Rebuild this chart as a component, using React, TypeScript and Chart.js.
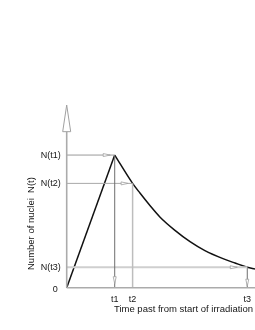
import { useEffect, useRef } from 'react';
import { Chart, registerables } from 'chart.js';

Chart.register(...registerables);

// Rise during irradiation (time, nuclei) – arbitrary units
const RISE_T = [0, 25.5];
const RISE_N = [0, 72.6];
// Decay after irradiation ends
const DECAY_T = [25.5, 35.0, 38.9, 44.2, 49.6, 57.5, 65.5, 73.4, 83.0, 89.4, 95.9, 100];
const DECAY_N = [72.6, 57.1, 51.8, 45.0, 38.6, 31.4, 25.2, 20.3, 15.9, 13.5, 11.2, 10.2];

// Marked times and their nuclei counts
const T_LABELS = ['t1', 't2', 't3'];
const T_VALUES = [25.5, 35.0, 95.9];
const N_LABELS = ['N(t1)', 'N(t2)', 'N(t3)'];
const N_VALUES = [72.6, 57.1, 11.2];
const ZERO_LABEL = '0';

const X_MAX = 100;
const Y_AXIS_TOP = 85.4; // where the arrow head starts
const Y_AXIS_TIP = 100;

const X_TITLE = 'Time past from start of irradiation';
const Y_TITLE = 'Number of nuclei  N(t)';

const FONT = '"Liberation Sans", Arial, sans-serif';

export default function App() {
  const ref = useRef<HTMLCanvasElement | null>(null);

  useEffect(() => {
    if (!ref.current) return;
    const pts = (xs: number[], ys: number[]) => xs.map((v, i) => ({ x: v, y: ys[i] }));

    const refColorsH = ['#9a9a9a', '#a8a8a8', '#cfcfcf'];
    const refWidthH = [1, 1, 2];
    const refColorsV = ['#6e6e6e', '#bdbdbd', '#6e6e6e'];
    const refWidthV = [1, 1.5, 1];

    const datasets: any[] = [];
    // axes
    datasets.push({ data: [{ x: 0, y: 0 }, { x: X_MAX, y: 0 }], borderColor: '#ababab', borderWidth: 1.6 });
    datasets.push({ data: [{ x: 0, y: 0 }, { x: 0, y: Y_AXIS_TOP }], borderColor: '#ababab', borderWidth: 1.6 });
    // reference lines
    T_VALUES.forEach((t, i) => {
      datasets.push({ data: [{ x: 0, y: N_VALUES[i] }, { x: t, y: N_VALUES[i] }], borderColor: refColorsH[i], borderWidth: refWidthH[i] });
      datasets.push({ data: [{ x: t, y: 0 }, { x: t, y: N_VALUES[i] }], borderColor: refColorsV[i], borderWidth: refWidthV[i] });
    });
    // curve
    datasets.push({ data: pts(RISE_T, RISE_N), borderColor: '#111', borderWidth: 1.5 });
    datasets.push({ data: pts(DECAY_T, DECAY_N), borderColor: '#111', borderWidth: 1.5, cubicInterpolationMode: 'monotone' });

    datasets.forEach((d) => {
      d.pointRadius = 0;
      d.fill = false;
      d.clip = false;
    });

    const decorations = {
      id: 'decorations',
      afterDatasetsDraw(chart: any) {
        const { ctx, scales } = chart;
        const xs = scales.x;
        const ys = scales.y;
        const ax = xs.getPixelForValue(0);
        const y0 = ys.getPixelForValue(0);
        ctx.save();
        // y-axis hollow arrow head
        const tipY = ys.getPixelForValue(Y_AXIS_TIP);
        const baseY = ys.getPixelForValue(Y_AXIS_TOP);
        ctx.beginPath();
        ctx.moveTo(ax, tipY);
        ctx.lineTo(ax + 4, baseY);
        ctx.lineTo(ax - 4, baseY);
        ctx.closePath();
        ctx.fillStyle = '#fff';
        ctx.fill();
        ctx.strokeStyle = '#a0a0a0';
        ctx.lineWidth = 1;
        ctx.stroke();

        const smallArrow = (px: number, py: number, dir: 'r' | 'd') => {
          ctx.beginPath();
          if (dir === 'r') {
            ctx.moveTo(px, py);
            ctx.lineTo(px - 7, py - 1.5);
            ctx.lineTo(px - 7, py + 1.5);
          } else {
            ctx.moveTo(px, py);
            ctx.lineTo(px - 1.5, py - 7);
            ctx.lineTo(px + 1.5, py - 7);
          }
          ctx.closePath();
          ctx.fillStyle = '#fff';
          ctx.fill();
          ctx.strokeStyle = '#a0a0a0';
          ctx.lineWidth = 0.8;
          ctx.stroke();
        };
        const hOff = [4.5, 4.5, 10];
        T_VALUES.forEach((t, i) => {
          smallArrow(xs.getPixelForValue(t) - hOff[i], ys.getPixelForValue(N_VALUES[i]), 'r');
        });
        smallArrow(xs.getPixelForValue(T_VALUES[0]), y0 - 4, 'd');
        smallArrow(xs.getPixelForValue(T_VALUES[2]), y0 - 1.5, 'd');

        // tick labels
        ctx.fillStyle = '#151515';
        ctx.font = '9px ' + FONT;
        ctx.textAlign = 'right';
        ctx.textBaseline = 'middle';
        N_VALUES.forEach((n, i) => {
          ctx.fillText(N_LABELS[i], ax - 6, ys.getPixelForValue(n));
        });
        ctx.fillText(ZERO_LABEL, ax - 9, y0 + 2);
        ctx.textAlign = 'center';
        ctx.textBaseline = 'top';
        T_VALUES.forEach((t, i) => {
          ctx.fillText(T_LABELS[i], xs.getPixelForValue(t), y0 + 7);
        });

        // titles
        ctx.font = '9.5px ' + FONT;
        ctx.textAlign = 'right';
        ctx.textBaseline = 'middle';
        ctx.fillText(X_TITLE, 253, y0 + 22);
        ctx.translate(31, 270);
        ctx.rotate(-Math.PI / 2);
        ctx.textAlign = 'left';
        ctx.fillText(Y_TITLE, 0, 0);
        ctx.restore();
      },
    };

    const chart = new Chart(ref.current, {
      type: 'line',
      data: { datasets },
      options: {
        animation: false,
        responsive: false,
        events: [],
        layout: { padding: { left: 66.7, right: 0, top: 105, bottom: 42.3 } },
        plugins: { legend: { display: false }, tooltip: { enabled: false } },
        scales: {
          x: { type: 'linear', min: 0, max: X_MAX, display: false },
          y: { type: 'linear', min: 0, max: Y_AXIS_TIP, display: false },
        },
      },
      plugins: [decorations],
    });
    return () => chart.destroy();
  }, []);

  return (
    <div style={{ position: 'fixed', left: 0, top: 0, width: 255, height: 330, background: '#fff' }}>
      <canvas ref={ref} width={255} height={330} style={{ display: 'block' }} />
    </div>
  );
}
